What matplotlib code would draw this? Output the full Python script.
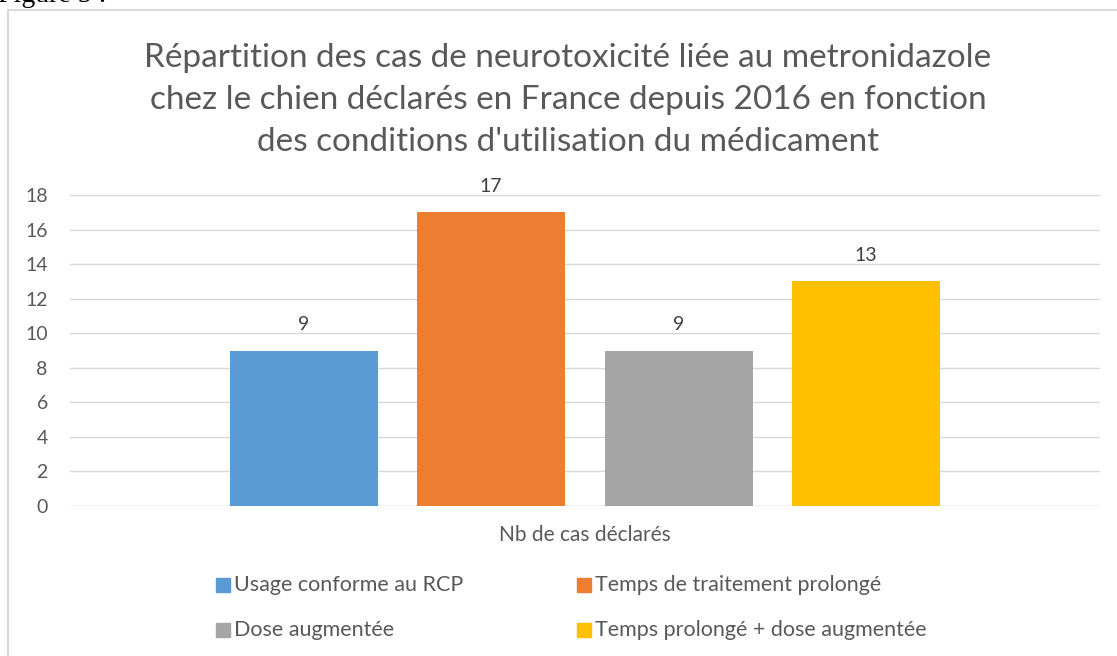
import matplotlib
matplotlib.use("Agg")
import matplotlib.pyplot as plt
from matplotlib.lines import Line2D

categories = ["Usage conforme au RCP", "Temps de traitement prolongé",
              "Dose augmentée", "Temps prolongé + dose augmentée"]
values = [9, 17, 9, 13]
colors = ["#5B9BD5", "#ED7D31", "#A5A5A5", "#FFC000"]
yticks = [0, 2, 4, 6, 8, 10, 12, 14, 16, 18]
xlabel = "Nb de cas déclarés"
title = ("Répartition des cas de neurotoxicité liée au metronidazole\n"
         "chez le chien déclarés en France depuis 2016 en fonction\n"
         "des conditions d'utilisation du médicament")

plt.rcParams['font.family'] = ['Lato', 'DejaVu Sans']
W, H = 1117, 656
fig = plt.figure(figsize=(W / 100, H / 100), dpi=100)

# chart border (left and top visible)
fig.add_artist(Line2D([8 / W, 8 / W], [0, 1 - 10 / H], transform=fig.transFigure,
                      color="#D9D9D9", lw=1.5))
fig.add_artist(Line2D([8 / W, 1], [1 - 10 / H, 1 - 10 / H], transform=fig.transFigure,
                      color="#D9D9D9", lw=1.5))
fig.text(-2 / W, 1 + 4 / H, "Figure 5 :", family="Liberation Serif", fontsize=20,
         color="black", ha="left", va="center")

ax = fig.add_axes([70 / W, 1 - 506 / H, (1100 - 70) / W, (506 - 195) / H])
ax.set_xlim(-0.5, 0.5)
ax.set_ylim(0, 18)

offsets = [-0.2728, -0.0913, 0.0908, 0.2728]
bw = 0.1437
for off, v, c, lab in zip(offsets, values, colors, categories):
    ax.bar(off, v, width=bw, color=c, zorder=3, label=lab)
    ax.text(off, v + 1.5, str(v), ha="center", va="center", fontsize=14, color="#404040")

ax.set_yticks(yticks)
ax.set_yticklabels([str(t) for t in yticks], fontsize=14, color="#595959")
ax.grid(axis="y", color="#D9D9D9", lw=1, zorder=0)
ax.set_xticks([])
ax.tick_params(axis="y", length=0, pad=16)
for s in ax.spines.values():
    s.set_visible(False)
ax.axhline(0, color="#D9D9D9", lw=1, zorder=1)

fig.text(585 / W, 1 - 535 / H, xlabel, ha="center", va="center", fontsize=15, color="#595959")

fig.text(568 / W, 1 - 100 / H, title, ha="center", va="center", fontsize=24,
         color="#595959", linespacing=1.5)

# legend
leg_pos = [(216, 585), (577, 585), (216, 630), (577, 630)]
for (x, y), c, lab in zip(leg_pos, colors, categories):
    fig.patches.append(plt.Rectangle((x / W, 1 - (y + 7) / H), 14 / W, 14 / H,
                                     transform=fig.transFigure, color=c))
    fig.text((x + 18) / W, 1 - y / H, lab, ha="left", va="center", fontsize=15.5, color="#595959")

fig.savefig("out.png", dpi=100, facecolor="white")
